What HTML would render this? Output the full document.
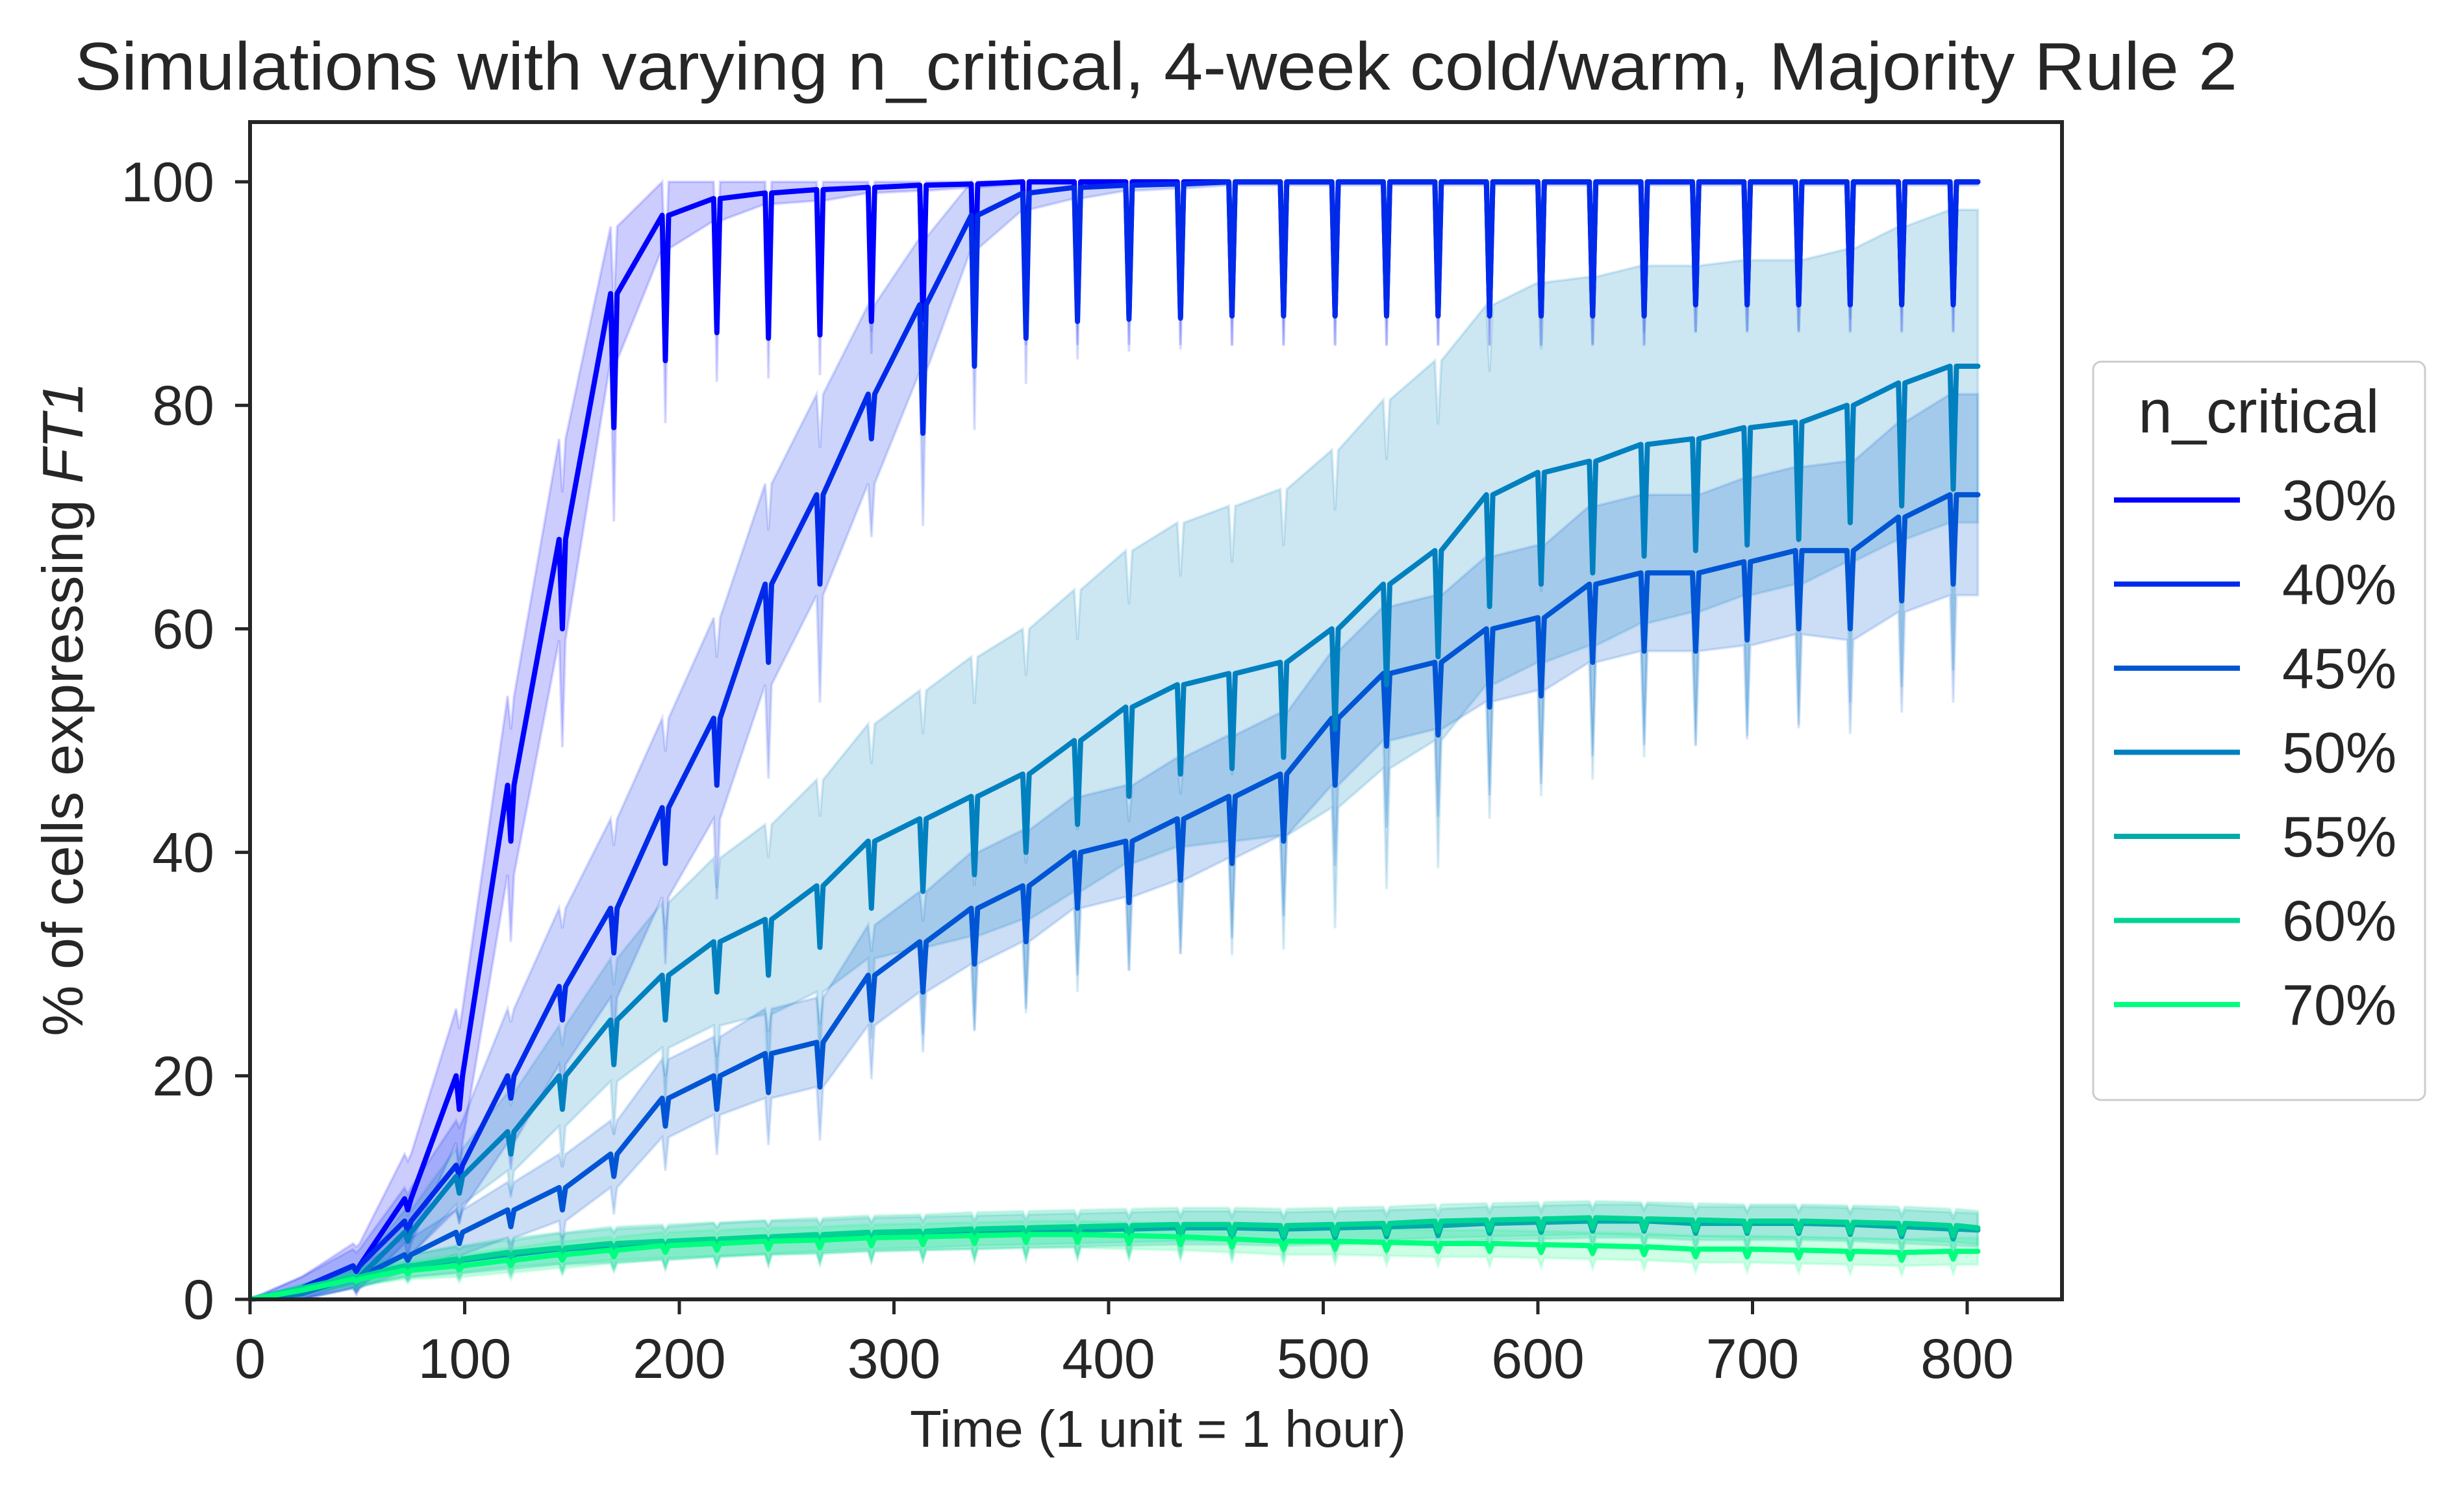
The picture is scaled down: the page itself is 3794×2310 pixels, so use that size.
<!DOCTYPE html>
<html><head><meta charset="utf-8"><style>
html,body{margin:0;padding:0;background:#fff;}
svg{display:block;font-family:"Liberation Sans",sans-serif;}
</style></head><body>
<svg id="chart" width="3794" height="2310" viewBox="0 0 3794 2310" xmlns="http://www.w3.org/2000/svg">
<rect width="3794" height="2310" fill="#fff"/>
<text x="1780" y="138" font-size="104" fill="#262626" text-anchor="middle" textLength="3330" lengthAdjust="spacingAndGlyphs">Simulations with varying n_critical, 4-week cold/warm, Majority Rule 2</text>
<g id="plot"></g>
<g id="axes"></g>
<text x="1783" y="2228" font-size="80" fill="#262626" text-anchor="middle">Time (1 unit = 1 hour)</text>
<text transform="translate(127,1092) rotate(-90)" font-size="88" fill="#262626" text-anchor="middle">% of cells expressing <tspan font-style="italic">FT1</tspan></text>
<g id="legend"></g>
</svg>
<script>
const times = [0,24,48,72,96,120,144,168,192,216,240,264,288,312,336,360,384,408,432,456,480,504,528,552,576,600,624,648,672,696,720,744,768,792,805];
const seriesNames = ["30%","40%","45%","50%","55%","60%","70%"];
const seriesColors = ["#0000ff","#002aea","#0055d4","#0080bf","#00aaaa","#00d494","#00ff7f"];
const v30 = [0,1,3,9,20,46,68,90,97,98.5,99,99.3,99.5,99.7,99.8,100,100,100,100,100,100,100,100,100,100,100,100,100,100,100,100,100,100,100,100];
const v40 = [0,1,3,7,12,20,28,35,44,52,64,72,81,89,97,99,99.5,99.7,99.8,100,100,100,100,100,100,100,100,100,100,100,100,100,100,100,100];
const v45 = [0,0.5,2,4,6,8,10,13,18,20,22,23,29,32,35,37,40,41,43,45,47,52,56,57,60,61,64,65,65,66,67,67,70,72,72];
const v50 = [0,0.5,2,6,11,15,20,25,29,32,34,37,41,43,45,47,50,53,55,56,57,60,64,67,72,74,75,76.5,77,78,78.5,80,82,83.5,83.5];
const v55 = [0,1,2,3,3.5,4,4.5,4.8,5,5.3,5.5,5.6,5.8,5.9,6,6.1,6.2,6.3,6.4,6.4,6.3,6.4,6.5,6.6,6.8,6.9,7,7,6.8,6.8,6.8,6.7,6.5,6.3,6.2];
const v60 = [0,1,2,3,3.6,4.2,4.6,5,5.2,5.4,5.6,5.8,6,6.1,6.3,6.4,6.5,6.6,6.7,6.7,6.6,6.7,6.8,7,7.1,7.2,7.3,7.2,7.1,7,7,6.9,6.8,6.6,6.4];
const v70 = [0,0.8,1.8,2.6,3,3.5,4,4.4,4.8,5,5.2,5.3,5.5,5.6,5.7,5.8,5.8,5.7,5.6,5.4,5.2,5.2,5.1,5,5,4.9,4.8,4.7,4.5,4.5,4.4,4.3,4.2,4.3,4.3];
const d30 = [0,0,0.5,1,3,5,8,12,13,12,13,13,12,12,12,12,12,12,12,12,12,12,12,12,12,12,12,12,11,11,11,11,11,11,0];
const d40 = [0,0,0.5,1,1,2,3,4,5,6,7,8,4,11.5,13.5,13,12,12,12,12,12,12,12,12,12,12,12,12,11,11,11,11,11,11,0];
const d45 = [0,0,0.3,0.5,1,1.5,2,2,2.5,3,3.5,4,4,4.5,5,5,5,5.5,5.5,6,6,6,6.5,6.5,7,7,7,7,7,7,7,7,7.5,8,0];
const d50 = [0,0,0.3,0.8,1.5,2,3,4,4,4.5,5,5.5,6,6.5,7,7,7.5,8,8,8.5,8.5,9,9,9.5,10,10,10,10,10,10.5,10.5,10.5,11,11,0];
const d55 = [0,0,0.2,0.3,0.4,0.5,0.6,0.6,0.7,0.7,0.8,0.8,0.8,0.8,0.9,0.9,0.9,0.9,0.9,0.9,0.9,0.9,0.9,0.9,0.9,0.9,0.9,0.9,0.9,0.9,0.9,0.9,0.9,0.9,0];
const d60 = [0,0,0.2,0.3,0.4,0.5,0.6,0.6,0.7,0.7,0.8,0.8,0.8,0.8,0.9,0.9,0.9,0.9,0.9,0.9,0.9,0.9,0.9,0.9,0.9,0.9,0.9,0.9,0.9,0.9,0.9,0.9,0.9,0.9,0];
const d70 = [0,0,0.2,0.3,0.4,0.5,0.5,0.6,0.6,0.6,0.7,0.7,0.7,0.7,0.7,0.7,0.7,0.7,0.7,0.7,0.7,0.7,0.7,0.7,0.7,0.7,0.7,0.7,0.7,0.7,0.7,0.7,0.7,0.7,0];
const b30 = [0,1,2,4,6,8,9,6,3,2,1,1,0.5,0.5,0.3,0.2,0.2,0.2,0.2,0.2,0.2,0.2,0.2,0.2,0.2,0.2,0.2,0.2,0.2,0.2,0.2,0.2,0.2,0.2,0.2];
const b40 = [0,1,1.5,3,4,6,7,8,8,9,9,9,8,6,3,1.5,1,0.5,0.4,0.3,0.3,0.3,0.3,0.3,0.3,0.3,0.3,0.3,0.3,0.3,0.3,0.3,0.3,0.3,0.3];
const b45 = [0,0.5,1,1.5,2,2.5,3,3,3.5,3.5,4,4,4.5,4.5,5,5,5,5,5.5,5.5,5.5,6,6,6,6.5,6.5,7,7,7,7.5,7.5,8,8.5,9,9];
const b50 = [0,0.5,1,2,2.5,3.5,4.5,5.5,6.5,7.5,8.5,9.5,10.5,11.5,12.5,13,13.5,14,14.5,15,15.5,16,16.5,17,17,17,16.5,16,15.5,15,14.5,14,14,14,14];
const b55 = [0,0.3,0.8,1,1.2,1.3,1.4,1.5,1.5,1.5,1.5,1.5,1.5,1.5,1.5,1.5,1.5,1.5,1.5,1.5,1.5,1.5,1.5,1.5,1.5,1.5,1.5,1.5,1.5,1.5,1.5,1.5,1.5,1.5,1.5];
const b60 = [0,0.3,0.8,1,1.2,1.3,1.4,1.5,1.5,1.5,1.5,1.5,1.5,1.5,1.5,1.5,1.5,1.5,1.5,1.5,1.5,1.5,1.5,1.5,1.5,1.5,1.5,1.5,1.5,1.5,1.5,1.5,1.5,1.5,1.5];
const b70 = [0,0.3,0.6,0.8,1,1.1,1.2,1.2,1.2,1.2,1.2,1.2,1.2,1.2,1.2,1.2,1.2,1.2,1.2,1.2,1.2,1.2,1.2,1.2,1.2,1.2,1.2,1.2,1.2,1.2,1.2,1.2,1.2,1.2,1.2];
const xTicks = [0,100,200,300,400,500,600,700,800];
const yTicks = [0,20,40,60,80,100];

const NS = "http://www.w3.org/2000/svg";
const L = 385, R = 3175, T = 188, B = 2001;
const X0 = 385, XS = (3029 - 385) / 800;
const Y0 = 2001, YS = (2001 - 280) / 100;
function xs(t){ return X0 + t * XS; }
function ys(v){ return Y0 - v * YS; }
function mk(tag, attrs, parent){ const e = document.createElementNS(NS, tag); for (const k in attrs) e.setAttribute(k, attrs[k]); parent.appendChild(e); return e; }
function clamp(v){ return Math.max(0, Math.min(100, v)); }

const vals = [v30,v40,v45,v50,v55,v60,v70];
const dips = [d30,d40,d45,d50,d55,d60,d70];
const bws = [b30,b40,b45,b50,b55,b60,b70];

function pts(v, d){
  const out = [];
  for (let i = 0; i < times.length; i++){
    out.push([times[i], clamp(v[i])]);
    if (d[i] > 0 && i < times.length - 1){
      out.push([times[i] + 1.5, clamp(v[i] - d[i])]);
      out.push([times[i] + 3, clamp(v[i])]);
    }
  }
  return out;
}
const plot = document.getElementById('plot');
for (let s = 0; s < vals.length; s++){
  const up = [], lo = [];
  for (let i = 0; i < times.length; i++){
    const u = clamp(vals[s][i] + bws[s][i]);
    const l = clamp(vals[s][i] - bws[s][i]);
    up.push([times[i], u]); lo.push([times[i], l]);
    if (dips[s][i] > 0 && i < times.length - 1){
      up.push([times[i] + 1.5, clamp(u - dips[s][i] * 0.6)]); up.push([times[i] + 3, u]);
      lo.push([times[i] + 1.5, clamp(l - dips[s][i] * 1.2)]); lo.push([times[i] + 3, l]);
    }
  }
  const poly = up.concat(lo.slice().reverse()).map(p => xs(p[0]).toFixed(1) + ',' + ys(p[1]).toFixed(1)).join(' ');
  const band = mk('polygon', {points: poly, fill: seriesColors[s], 'fill-opacity': 0.2, stroke: seriesColors[s], 'stroke-opacity': 0.15, 'stroke-width': 4}, plot);
  
  
}
for (let s = 0; s < vals.length; s++){
  const p = pts(vals[s], dips[s]).map(q => xs(q[0]).toFixed(1) + ',' + ys(q[1]).toFixed(1)).join(' ');
  const line = mk('polyline', {points: p, fill: 'none', stroke: seriesColors[s], 'stroke-width': 8, 'stroke-linejoin': 'round', 'stroke-linecap': 'round'}, plot);
  
  
}
const axes = document.getElementById('axes');
const frame = mk('rect', {x: L, y: T, width: R - L, height: B - T, fill: 'none', stroke: '#262626', 'stroke-width': 6}, axes);


xTicks.forEach(t => {
  const tk = mk('line', {x1: xs(t), x2: xs(t), y1: B, y2: B + 23, stroke: '#262626', 'stroke-width': 5}, axes);
  
  
  const lb = mk('text', {x: xs(t), y: 2122, 'font-size': 86, fill: '#262626', 'text-anchor': 'middle'}, axes);
  lb.textContent = t;
  
  
});
yTicks.forEach(v => {
  const tk = mk('line', {x1: L - 23, x2: L, y1: ys(v), y2: ys(v), stroke: '#262626', 'stroke-width': 5}, axes);
  
  
  const lb = mk('text', {x: 330, y: ys(v) + 30, 'font-size': 86, fill: '#262626', 'text-anchor': 'end'}, axes);
  lb.textContent = v;
  
  
});
const leg = document.getElementById('legend');
const box = mk('rect', {x: 3223, y: 557, width: 511, height: 1137, rx: 12, fill: '#fff', stroke: '#cccccc', 'stroke-width': 3}, leg);


const lt = mk('text', {x: 3478, y: 666, 'font-size': 94, fill: '#262626', 'text-anchor': 'middle'}, leg);
lt.textContent = 'n_critical';


seriesNames.forEach((n, i) => {
  const y = 770 + i * 129.5;
  const g = mk('g', {}, leg);
  
  
  mk('line', {x1: 3255, x2: 3449, y1: y, y2: y, stroke: seriesColors[i], 'stroke-width': 8}, g);
  const t = mk('text', {x: 3514, y: y + 31, 'font-size': 88, fill: '#262626'}, g);
  t.textContent = n;
});
</script>
</body></html>
